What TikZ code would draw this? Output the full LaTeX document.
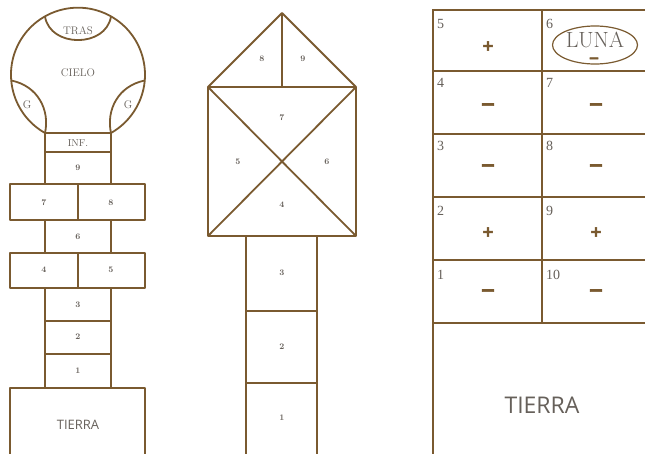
\documentclass[tikz,border=0pt]{standalone}
\usepackage{fontspec}
\usetikzlibrary{shapes.geometric}
\setsansfont{Open Sans}
\newfontfamily\signfont[FakeBold=3]{DejaVu Sans Bold}
\newfontfamily\cellfont{Liberation Serif}
\definecolor{hopline}{HTML}{7A5A30}
\definecolor{hopink}{HTML}{66605A}
\tikzset{
    hop/.style={draw=hopline, line width=1.8pt, line join=round},
    hopbold/.style={draw=hopline, line width=2.8pt},
    word/.style={text=hopink, inner sep=0pt, font=\fontsize{11}{11}\selectfont},
    tinynum/.style={text=hopink, inner sep=0pt, font=\fontsize{8.5}{8.5}\selectfont\bfseries},
    cellnum/.style={text=hopink, inner sep=0pt, anchor=north west, font=\cellfont\fontsize{14}{14}\selectfont},
    plussign/.style={text=hopline, inner sep=0pt, font=\signfont\bfseries\fontsize{15}{15}\selectfont},
    minussign/.style={text=hopline, inner sep=0pt, font=\signfont\bfseries\fontsize{19}{19}\selectfont}
}
\begin{document}
\begin{tikzpicture}[x=1pt, y=1pt]
    \useasboundingbox (0,0) rectangle (645,-454);
    \clip (0,0) rectangle (645,-454);

    \coordinate (I1) at (45,-133);
    \coordinate (I2) at (111,-133);
    \coordinate (T1) at (45,-16.4);
    \coordinate (T2) at (111,-16.4);
    \coordinate (G1) at (11.3,-80.5);
    \coordinate (G2) at (144.7,-80.5);

    \draw[hop] (I1) arc[start angle=240.5, end angle=-60.5, radius=67];
    \draw[hop] (T1) .. controls (50,-48) and (106,-48) .. (T2);
    \draw[hop] (G1) .. controls (38,-86) and (50,-110) .. (I1);
    \draw[hop] (G2) .. controls (118,-86) and (106,-110) .. (I2);

    \draw[hop] (I1) rectangle (111,-184);
    \draw[hop] (45,-152) -- (111,-152);
    \draw[hop] (10,-184) rectangle (145,-220);
    \draw[hop] (78,-184) -- (78,-220);
    \draw[hop] (45,-220) rectangle (111,-253);
    \draw[hop] (10,-253) rectangle (145,-288);
    \draw[hop] (78,-253) -- (78,-288);
    \draw[hop] (45,-288) rectangle (111,-388);
    \draw[hop] (45,-321) -- (111,-321);
    \draw[hop] (45,-354) -- (111,-354);
    \draw[hop] (10,-460) -- (10,-388) -- (145,-388) -- (145,-460);

    \node[word] (tras) at (78,-31) {TRAS};
    \node[word] (cielo) at (78,-73) {CIELO};
    \node[word] (gl) at (27,-105) {G};
    \node[word] (gr) at (128,-105) {G};
    \node[word, font=\fontsize{10}{10}\selectfont] (inf) at (78,-143) {INF.};
    \node[tinynum] (l9) at (78,-168) {9};
    \node[tinynum] (l7) at (44,-203) {7};
    \node[tinynum] (l8) at (111,-203) {8};
    \node[tinynum] (l6) at (78,-237) {6};
    \node[tinynum] (l4) at (44,-270) {4};
    \node[tinynum] (l5) at (111,-270) {5};
    \node[tinynum] (l3) at (78,-305) {3};
    \node[tinynum] (l2) at (78,-337) {2};
    \node[tinynum] (l1) at (78,-371) {1};
    \node[word, font=\sffamily\fontsize{13}{13}\selectfont] (tierraL) at (78,-425) {TIERRA};

    \coordinate (A) at (282,-13);
    \coordinate (B) at (208,-87);
    \coordinate (C) at (356,-87);
    \coordinate (D) at (356,-236);
    \coordinate (E) at (208,-236);
    \coordinate (M) at (282,-87);

    \draw[hop] (B) -- (A) -- (C);
    \draw[hop] (A) -- (M);
    \draw[hop] (B) rectangle (D);
    \draw[hop] (B) -- (D);
    \draw[hop] (C) -- (E);
    \draw[hop] (246,-460) -- (246,-236);
    \draw[hop] (317,-460) -- (317,-236);
    \draw[hop] (246,-311) -- (317,-311);
    \draw[hop] (246,-383) -- (317,-383);

    \node[tinynum] (m8) at (262,-59) {8};
    \node[tinynum] (m9) at (303,-59) {9};
    \node[tinynum] (m7) at (282,-118) {7};
    \node[tinynum] (m5) at (238,-162) {5};
    \node[tinynum] (m6) at (327,-162) {6};
    \node[tinynum] (m4) at (282,-205) {4};
    \node[tinynum] (m3) at (282,-273) {3};
    \node[tinynum] (m2) at (282,-347) {2};
    \node[tinynum] (m1) at (282,-418) {1};

    \draw[hopbold] (433,-460) -- (433,-10) -- (650,-10);
    \draw[hopbold] (542,-10) -- (542,-323);
    \foreach \y in {71,134,197,260,323}
        \draw[hopbold] (433,-\y) -- (650,-\y);

    \node[cellnum] (r5) at (437,-19) {5};
    \node[cellnum] (r6) at (546,-19) {6};
    \node[cellnum] (r4) at (437,-78) {4};
    \node[cellnum] (r7) at (546,-78) {7};
    \node[cellnum] (r3) at (437,-141) {3};
    \node[cellnum] (r8) at (546,-141) {8};
    \node[cellnum] (r2) at (437,-206) {2};
    \node[cellnum] (r9) at (546,-206) {9};
    \node[cellnum] (r1) at (437,-270) {1};
    \node[cellnum] (r10) at (546,-270) {10};

    \node[plussign] (s5) at (488,-46) {+};
    \node[minussign] (s4) at (488,-107) {−};
    \node[minussign] (s7) at (596,-107) {−};
    \node[minussign] (s3) at (488,-168) {−};
    \node[minussign] (s8) at (596,-168) {−};
    \node[plussign] (s2) at (488,-232) {+};
    \node[plussign] (s9) at (596,-232) {+};
    \node[minussign] (s1) at (488,-293) {−};
    \node[minussign] (s10) at (596,-293) {−};

    \node[draw=hopline, line width=1.2pt, ellipse, minimum width=85pt, minimum height=38pt] (luna) at (595,-45) {};
    \node[word, font=\fontsize{22}{22}\selectfont] (lunatext) at (595,-40) {LUNA};
    \node[minussign, font=\signfont\bfseries\fontsize{13}{13}\selectfont] (s6) at (594,-60) {−};

    \node[word, font=\sffamily\fontsize{23}{23}\selectfont] (tierraR) at (542,-405) {TIERRA};
\end{tikzpicture}
\end{document}
